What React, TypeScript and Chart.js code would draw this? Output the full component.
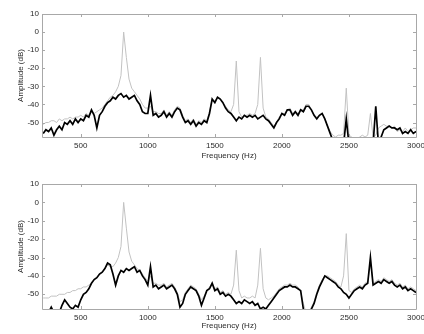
import { useEffect, useRef } from "react";
import { Chart, registerables } from "chart.js";
Chart.register(...registerables);

// Frequency grid: 220 Hz .. 3000 Hz in 20 Hz steps
const FREQ_START = 220;
const FREQ_STEP = 20;

const xTickValues = [500, 1000, 1500, 2000, 2500, 3000];
const yTickValues = [-50, -40, -30, -20, -10, 0, 10];

// Top panel
const topBlack = [
  -56, -54, -55, -53, -57, -54, -52, -54, -50, -51,
  -49, -51, -48, -50, -48, -49, -46, -47, -43, -46,
  -53, -46, -44, -41, -39, -38, -36, -37, -35, -34,
  -36, -35, -37, -36, -35, -38, -40, -44, -45, -45,
  -35, -46, -45, -47, -46, -44, -47, -45, -47, -44,
  -42, -43, -47, -50, -49, -51, -49, -52, -50, -51,
  -49, -50, -45, -37, -39, -36, -37, -39, -42, -44,
  -45, -47, -49, -47, -48, -46, -47, -46, -47, -46,
  -48, -47, -46, -48, -49, -51, -53, -50, -48, -45,
  -46, -43, -43, -46, -44, -46, -43, -44, -41, -41,
  -43, -46, -48, -46, -45, -48, -52, -56, -60, -62,
  -62, -62, -62, -48, -62, -62, -62, -62, -62, -62,
  -62, -62, -62, -62, -41, -62, -58, -54, -53, -52,
  -53, -53, -54, -53, -56, -55, -56, -54, -56, -55,
  -54, -54,
];
const topGray = [
  -51, -50, -50, -49, -49, -50, -48, -49, -48, -48,
  -47, -48, -47, -47, -46, -47, -45, -46, -44, -45,
  -44, -43, -42, -40, -38, -36, -35, -33, -30, -24,
  0, -14, -26, -31, -33, -35, -37, -40, -42, -42,
  -41, -44, -44, -45, -45, -43, -46, -44, -46, -43,
  -41, -42, -46, -49, -48, -50, -48, -51, -49, -50,
  -48, -49, -44, -37, -38, -36, -37, -39, -41, -43,
  -44, -40, -16, -44, -47, -46, -46, -45, -46, -45,
  -40, -14, -42, -47, -48, -50, -52, -50, -47, -45,
  -45, -43, -42, -45, -44, -45, -43, -43, -40, -40,
  -43, -46, -47, -46, -45, -48, -52, -55, -57, -58,
  -57, -57, -56, -31, -57, -58, -59, -59, -58, -57,
  -58, -57, -45, -58, -57, -53, -52, -51, -52, -52,
  -53, -52, -55, -54, -55, -53, -55, -54, -53, -53,
];

// Bottom panel
const bottomBlack = [
  -62, -62, -60, -57, -60, -62, -60, -56, -53, -55,
  -57, -58, -56, -57, -53, -50, -49, -47, -44, -42,
  -41, -39, -38, -36, -33, -34, -39, -45, -40, -37,
  -38, -36, -37, -36, -35, -38, -37, -40, -42, -45,
  -35, -46, -45, -47, -46, -45, -47, -46, -45, -47,
  -50, -57, -55, -50, -48, -46, -47, -48, -51, -56,
  -52, -48, -47, -44, -48, -47, -50, -49, -51, -50,
  -51, -53, -55, -54, -55, -53, -54, -55, -54, -56,
  -55, -58, -57, -58, -56, -54, -52, -50, -48, -47,
  -46, -46, -45, -46, -46, -47, -48, -58, -62, -62,
  -58, -55, -50, -46, -43, -40, -41, -42, -43, -44,
  -46, -47, -49, -50, -52, -50, -48, -47, -46, -47,
  -45, -44, -30, -45, -44, -43, -44, -42, -43, -44,
  -43, -45, -46, -45, -47, -46, -48, -47, -48, -49,
];
const bottomGray = [
  -52, -52, -52, -51, -51, -51, -50, -50, -50, -49,
  -49, -48, -48, -47, -47, -46, -46, -45, -44, -42,
  -41, -39, -38, -36, -34, -35, -35, -33, -30, -24,
  0, -14, -27, -32, -34, -36, -37, -39, -41, -43,
  -40, -44, -44, -45, -45, -44, -46, -45, -44, -46,
  -49, -54, -53, -49, -47, -45, -46, -47, -50, -53,
  -51, -48, -46, -44, -47, -46, -49, -48, -50, -49,
  -50, -45, -26, -48, -52, -51, -52, -52, -51, -52,
  -45, -25, -47, -52, -53, -52, -51, -49, -47, -46,
  -45, -45, -44, -45, -45, -46, -49, -55, -60, -60,
  -57, -54, -49, -45, -42, -40, -40, -41, -42, -43,
  -45, -46, -40, -17, -48, -49, -47, -46, -45, -46,
  -44, -43, -33, -44, -43, -42, -43, -41, -42, -43,
  -42, -44, -45, -44, -46, -45, -47, -46, -47, -48,
];

const toPoints = (vals: number[]) =>
  vals.map((v, i) => ({ x: FREQ_START + i * FREQ_STEP, y: v }));

const FONT = { family: "'Liberation Sans', Arial, sans-serif", size: 8 };
const TEXT = "#2a2a2a";
const FRAME = "#a8a8a8";

const framePlugin = {
  id: "frameBox",
  afterDatasetsDraw(chart: any) {
    const { ctx, chartArea: a, scales } = chart;
    ctx.save();
    ctx.strokeStyle = FRAME;
    ctx.lineWidth = 1;
    ctx.beginPath();
    ctx.rect(Math.round(a.left) + 0.5, Math.round(a.top) + 0.5, Math.round(a.right - a.left), Math.round(a.bottom - a.top));
    ctx.stroke();
    const t = 3;
    ctx.beginPath();
    for (const v of xTickValues) {
      const px = Math.round(scales.x.getPixelForValue(v)) + 0.5;
      ctx.moveTo(px, a.bottom);
      ctx.lineTo(px, a.bottom - t);
      ctx.moveTo(px, a.top);
      ctx.lineTo(px, a.top + t);
    }
    for (const v of yTickValues) {
      const py = Math.round(scales.y.getPixelForValue(v)) + 0.5;
      ctx.moveTo(a.left, py);
      ctx.lineTo(a.left + t, py);
      ctx.moveTo(a.right, py);
      ctx.lineTo(a.right - t, py);
    }
    ctx.stroke();
    ctx.restore();
  },
};

function Panel(props: {
  black: number[];
  gray: number[];
  padTop: number;
  xAxisHeight: number;
  titlePadBottom: number;
}) {
  const ref = useRef<HTMLCanvasElement | null>(null);
  useEffect(() => {
    if (!ref.current) return;
    const chart = new Chart(ref.current, {
      type: "line",
      data: {
        datasets: [
          {
            data: toPoints(props.black),
            borderColor: "#000000",
            borderWidth: 1.7,
            pointRadius: 0,
            tension: 0,
            order: 0,
          },
          {
            data: toPoints(props.gray),
            borderColor: "#c2c2c2",
            borderWidth: 1,
            pointRadius: 0,
            tension: 0,
            order: 1,
          },
        ],
      },
      options: {
        animation: false,
        responsive: false,
        events: [],
        plugins: { legend: { display: false }, tooltip: { enabled: false } },
        layout: { padding: { left: 0, right: 8, top: props.padTop, bottom: 0 } },
        scales: {
          x: {
            type: "linear",
            min: 211,
            max: 3000,
            afterBuildTicks: (s: any) => {
              s.ticks = xTickValues.map((v) => ({ value: v }));
            },
            afterFit: (s: any) => {
              s.height = props.xAxisHeight;
              s.paddingLeft = 0;
              s.paddingRight = 0;
            },
            grid: { display: false, drawTicks: false },
            border: { display: false },
            ticks: {
              font: FONT,
              color: TEXT,
              padding: 4,
              maxRotation: 0,
              autoSkip: false,
              callback: (v: any) => String(v),
            },
            title: {
              display: true,
              text: "Frequency (Hz)",
              font: FONT,
              color: TEXT,
              padding: { top: 0, bottom: props.titlePadBottom },
            },
          },
          y: {
            type: "linear",
            min: -58,
            max: 10,
            afterBuildTicks: (s: any) => {
              s.ticks = yTickValues.map((v) => ({ value: v }));
            },
            afterFit: (s: any) => {
              s.width = 42;
              s.paddingTop = 0;
              s.paddingBottom = 0;
            },
            grid: { display: false, drawTicks: false },
            border: { display: false },
            ticks: { font: FONT, color: TEXT, padding: 3, autoSkip: false, callback: (v: any) => String(v) },
            title: {
              display: true,
              text: "Amplitude (dB)",
              font: FONT,
              color: TEXT,
              padding: { top: 16, bottom: 0 },
            },
          },
        },
      },
      plugins: [framePlugin],
    } as any);
    return () => chart.destroy();
  }, []);
  return <canvas ref={ref} width={424} height={167} style={{ display: "block", width: 424, height: 167 }} />;
}

export default function App() {
  return (
    <div style={{ position: "absolute", left: 0, top: 0, width: 424, height: 334, background: "#ffffff", overflow: "hidden" }}>
      <Panel black={topBlack} gray={topGray} padTop={14} xAxisHeight={30} titlePadBottom={6} />
      <Panel black={bottomBlack} gray={bottomGray} padTop={17} xAxisHeight={25} titlePadBottom={3} />
    </div>
  );
}
